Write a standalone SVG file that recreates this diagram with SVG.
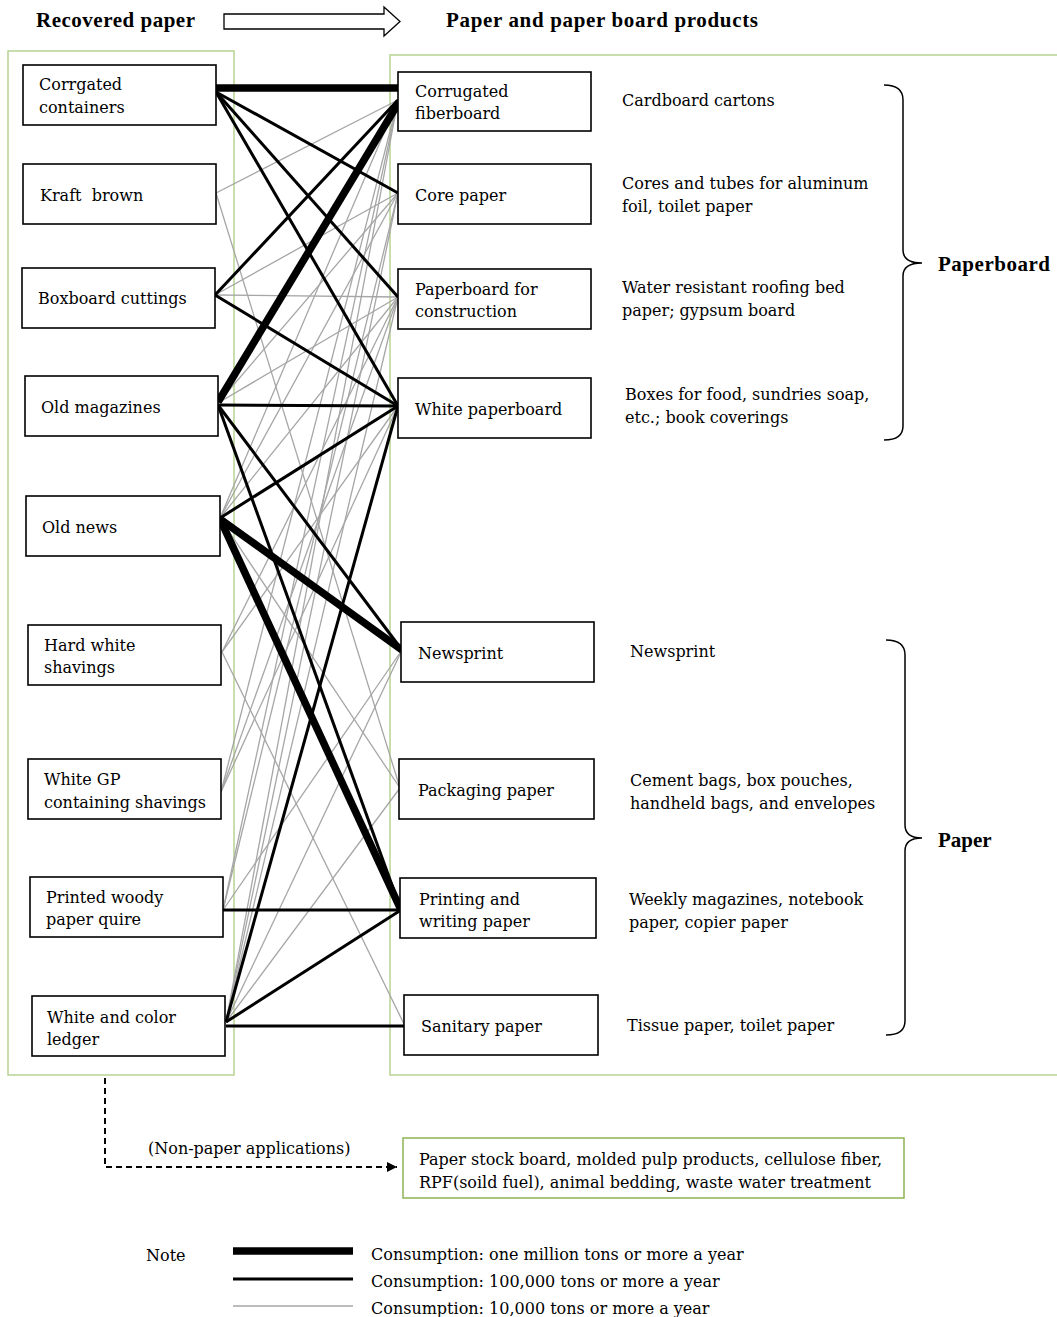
<svg xmlns="http://www.w3.org/2000/svg" width="1057" height="1317" viewBox="0 0 1057 1317">
<defs>
<style>
.t{font-family:"DejaVu Serif","Liberation Serif",serif;font-size:16px;fill:#000}
.h{font-family:"Liberation Serif","Times New Roman",serif;font-size:21px;font-weight:bold;fill:#000}
.box{fill:#fff;stroke:#000;stroke-width:1.6}
.grn{fill:none;stroke:#b7d492;stroke-width:1.5}
.g{stroke:#a6a6a6;stroke-width:1.3;fill:none}
.b{stroke:#000;stroke-width:3;fill:none}
.k{stroke:#000;stroke-width:7.5;fill:none}
.br{fill:none;stroke:#000;stroke-width:1.5}
</style>
<marker id="ah" viewBox="0 0 10 10" refX="10" refY="5" markerWidth="10" markerHeight="10" markerUnits="userSpaceOnUse" orient="auto"><path d="M0,0 L10,5 L0,10 z" fill="#000"/></marker>
</defs>
<rect width="1057" height="1317" fill="#fff"/>
<g id="header">
<text class="h" x="36" y="27" textLength="159">Recovered paper</text>
<path d="M224,14 H384 V7 L400,21.5 L384,36 V29 H224 Z" fill="#fff" stroke="#000" stroke-width="1.3"/>
<text class="h" x="446" y="27" textLength="312">Paper and paper board products</text>
</g>
<rect class="grn" x="8" y="51" width="226" height="1024"/>
<rect class="grn" x="390" y="55" width="680" height="1020"/>
<g id="connectors">
<!-- gray -->
<line class="g" x1="216" y1="193" x2="398" y2="100"/>
<line class="g" x1="216" y1="193" x2="400" y2="788"/>
<line class="g" x1="215" y1="295" x2="398" y2="193"/>
<line class="g" x1="215" y1="295" x2="398" y2="297"/>
<line class="g" x1="218" y1="403" x2="398" y2="297"/>
<line class="g" x1="218" y1="403" x2="398" y2="193"/>
<line class="g" x1="220" y1="518" x2="398" y2="100"/>
<line class="g" x1="220" y1="518" x2="398" y2="193"/>
<line class="g" x1="220" y1="518" x2="398" y2="297"/>
<line class="g" x1="220" y1="518" x2="400" y2="788"/>
<line class="g" x1="222" y1="652" x2="398" y2="297"/>
<line class="g" x1="222" y1="652" x2="398" y2="406"/>
<line class="g" x1="222" y1="652" x2="405" y2="1026"/>
<line class="g" x1="221" y1="792" x2="398" y2="100"/>
<line class="g" x1="221" y1="792" x2="398" y2="297"/>
<line class="g" x1="221" y1="792" x2="398" y2="406"/>
<line class="g" x1="223" y1="910" x2="398" y2="100"/>
<line class="g" x1="223" y1="910" x2="398" y2="193"/>
<line class="g" x1="223" y1="910" x2="402" y2="650"/>
<line class="g" x1="226" y1="1022" x2="398" y2="100"/>
<line class="g" x1="226" y1="1022" x2="398" y2="193"/>
<line class="g" x1="226" y1="1022" x2="398" y2="297"/>
<line class="g" x1="226" y1="1022" x2="402" y2="650"/>
<line class="g" x1="226" y1="1022" x2="400" y2="788"/>
<!-- black -->
<line class="b" x1="216" y1="92" x2="398" y2="193"/>
<line class="b" x1="216" y1="92" x2="398" y2="297"/>
<line class="b" x1="216" y1="92" x2="398" y2="406"/>
<line class="b" x1="215" y1="295" x2="398" y2="100"/>
<line class="b" x1="215" y1="295" x2="398" y2="406"/>
<line class="b" x1="218" y1="405" x2="398" y2="406"/>
<line class="b" x1="218" y1="405" x2="402" y2="650"/>
<line class="b" x1="218" y1="405" x2="401" y2="910"/>
<line class="b" x1="220" y1="518" x2="398" y2="406"/>
<line class="b" x1="223" y1="910" x2="401" y2="910"/>
<line class="b" x1="226" y1="1022" x2="398" y2="406"/>
<line class="b" x1="226" y1="1022" x2="401" y2="910"/>
<line class="b" x1="226" y1="1026" x2="405" y2="1026"/>
<!-- thick -->
<line class="k" x1="216" y1="88" x2="398" y2="88"/>
<line class="k" x1="218" y1="402" x2="399" y2="102"/>
<line class="k" x1="220" y1="519" x2="402" y2="650"/>
<line class="k" x1="220" y1="519" x2="401" y2="910"/>
<!-- non-paper -->
<path d="M105,1078 V1167 H397" fill="none" stroke="#000" stroke-width="2" stroke-dasharray="6,4" marker-end="url(#ah)"/>
</g>
<g id="src-corrugated-containers"><rect class="box" x="23" y="65" width="193" height="60"/><text class="t" x="39" y="90">Corrgated</text><text class="t" x="39" y="113">containers</text></g>
<g id="src-kraft-brown"><rect class="box" x="23" y="164" width="193" height="60"/><text class="t" x="40" y="201" xml:space="preserve">Kraft  brown</text></g>
<g id="src-boxboard-cuttings"><rect class="box" x="22" y="268" width="193" height="60"/><text class="t" x="38" y="304">Boxboard cuttings</text></g>
<g id="src-old-magazines"><rect class="box" x="25" y="376" width="193" height="60"/><text class="t" x="41" y="413">Old magazines</text></g>
<g id="src-old-news"><rect class="box" x="26" y="496" width="194" height="60"/><text class="t" x="42" y="533">Old news</text></g>
<g id="src-hard-white-shavings"><rect class="box" x="28" y="625" width="193" height="60"/><text class="t" x="44" y="651">Hard white</text><text class="t" x="44" y="673">shavings</text></g>
<g id="src-white-gp"><rect class="box" x="28" y="759" width="193" height="60"/><text class="t" x="44" y="785">White GP</text><text class="t" x="44" y="808">containing shavings</text></g>
<g id="src-printed-woody"><rect class="box" x="30" y="877" width="193" height="60"/><text class="t" x="46" y="903">Printed woody</text><text class="t" x="46" y="925">paper quire</text></g>
<g id="src-white-color-ledger"><rect class="box" x="32" y="996" width="193" height="60"/><text class="t" x="47" y="1023">White and color</text><text class="t" x="47" y="1045">ledger</text></g>
<g id="dst-corrugated-fiberboard"><rect class="box" x="398" y="72" width="193" height="59"/><text class="t" x="415" y="97">Corrugated</text><text class="t" x="415" y="119">fiberboard</text></g>
<g id="dst-core-paper"><rect class="box" x="398" y="164" width="193" height="60"/><text class="t" x="415" y="201">Core paper</text></g>
<g id="dst-construction"><rect class="box" x="398" y="269" width="193" height="60"/><text class="t" x="415" y="295">Paperboard for</text><text class="t" x="415" y="317">construction</text></g>
<g id="dst-white-paperboard"><rect class="box" x="398" y="378" width="193" height="60"/><text class="t" x="415" y="415">White paperboard</text></g>
<g id="dst-newsprint"><rect class="box" x="401" y="622" width="193" height="60"/><text class="t" x="418" y="659">Newsprint</text></g>
<g id="dst-packaging"><rect class="box" x="399" y="759" width="195" height="60"/><text class="t" x="418" y="796">Packaging paper</text></g>
<g id="dst-printing"><rect class="box" x="400" y="878" width="196" height="60"/><text class="t" x="419" y="905">Printing and</text><text class="t" x="419" y="927">writing paper</text></g>
<g id="dst-sanitary"><rect class="box" x="404" y="995" width="194" height="60"/><text class="t" x="421" y="1032">Sanitary paper</text></g>
<g id="descriptions">
<text class="t" x="622" y="106">Cardboard cartons</text>
<text class="t" x="622" y="189">Cores and tubes for aluminum</text>
<text class="t" x="622" y="212">foil, toilet paper</text>
<text class="t" x="622" y="293">Water resistant roofing bed</text>
<text class="t" x="622" y="316">paper; gypsum board</text>
<text class="t" x="625" y="400">Boxes for food, sundries soap,</text>
<text class="t" x="625" y="423">etc.; book coverings</text>
<text class="t" x="630" y="657">Newsprint</text>
<text class="t" x="630" y="786">Cement bags, box pouches,</text>
<text class="t" x="630" y="809">handheld bags, and envelopes</text>
<text class="t" x="629" y="905">Weekly magazines, notebook</text>
<text class="t" x="629" y="928">paper, copier paper</text>
<text class="t" x="627" y="1031">Tissue paper, toilet paper</text>
</g>
<g id="brace-paperboard">
<path class="br" d="M884,85 Q903,85 903,100 L903,250 Q903,263 922,263 Q903,263 903,276 L903,426 Q903,440 884,440"/>
<text class="h" x="938" y="271" font-size="20" textLength="112">Paperboard</text>
</g>
<g id="brace-paper">
<path class="br" d="M886,640 Q905,640 905,655 L905,825 Q905,838 922,838 Q905,838 905,851 L905,1021 Q905,1035 886,1035"/>
<text class="h" x="938" y="847" font-size="20">Paper</text>
</g>
<g id="non-paper">
<text class="t" x="148" y="1154">(Non-paper applications)</text>
<rect x="403" y="1138" width="501" height="60" fill="#fff" stroke="#8db255" stroke-width="1.5"/>
<text class="t" x="419" y="1165">Paper stock board, molded pulp products, cellulose fiber,</text>
<text class="t" x="419" y="1188">RPF(soild fuel), animal bedding, waste water treatment</text>
</g>
<g id="legend">
<text class="t" x="146" y="1261">Note</text>
<line class="k" x1="233" y1="1251" x2="353" y2="1251"/>
<line class="b" x1="233" y1="1279" x2="353" y2="1279"/>
<line class="g" x1="233" y1="1306" x2="353" y2="1306"/>
<text class="t" x="371" y="1260">Consumption: one million tons or more a year</text>
<text class="t" x="371" y="1287">Consumption: 100,000 tons or more a year</text>
<text class="t" x="371" y="1314">Consumption: 10,000 tons or more a year</text>
</g>
</svg>
